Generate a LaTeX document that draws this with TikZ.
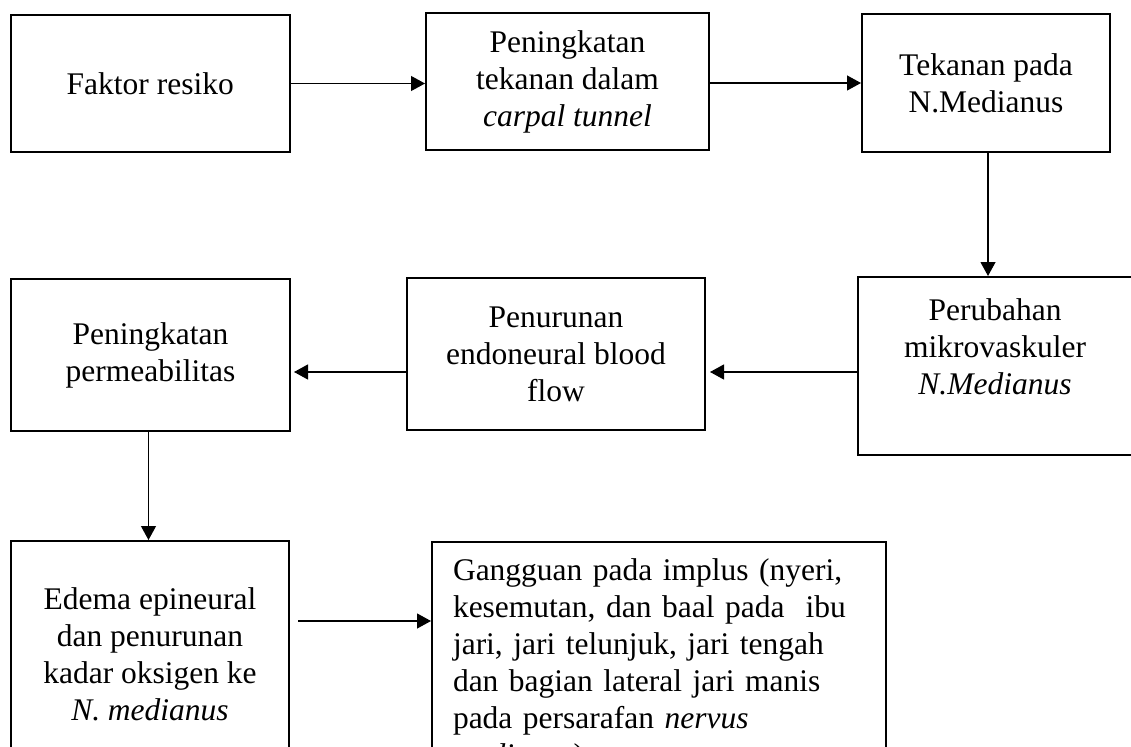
\documentclass[tikz,border=0pt]{standalone}
\usepackage{fontspec}
\setmainfont{Liberation Serif}
\usetikzlibrary{arrows.meta}
\begin{document}
\begin{tikzpicture}[x=1pt, y=-1pt,
    every node/.style={font=\fontsize{31.5}{37}\selectfont},
    box/.style={draw, line width=2pt, align=center, inner sep=0pt},
    arr/.style={line width=1.2pt, -{Triangle[length=14pt, width=15pt]}}]
    \useasboundingbox (0,0) rectangle (1131,746);

    % top row
    \node (f1) at (150.25,83.5) [box, minimum width=279.5pt, minimum height=137pt] {Faktor resiko};
    \node (f2) at (567.5,81.5) [box, minimum width=283pt, minimum height=137pt] {Peningkatan\\tekanan dalam\\\textit{carpal tunnel}};
    \node (f3) at (986,83) [box, minimum width=248pt, minimum height=138pt] {Tekanan pada\\N.Medianus};
    \draw[arr] (f1.east) -- (f1.east -| f2.west);
    \draw[arr] (f3.west -| f2.east) -- (f3.west);

    % middle row
    \node (f4) at (995,366) [box, minimum width=274pt, minimum height=178pt,
      label={[align=center, inner sep=0pt, anchor=north, label distance=-22.5pt]north:{Perubahan\\mikrovaskuler\\\textit{N.Medianus}}}] {};
    \draw[arr] ([xshift=2pt]f3.south) -- ([xshift=2pt]f3.south |- f4.north);

    \node (f5) at (556,354) [box, minimum width=298pt, minimum height=152pt] {Penurunan\\endoneural blood\\flow};
    \draw[arr, shorten >=4pt] ([yshift=-6pt]f4.west) -- ([yshift=-6pt]f4.west -| f5.east);

    \node (f6) at (150.5,355) [box, minimum width=279pt, minimum height=152pt] {Peningkatan\\permeabilitas};
    \draw[arr, shorten >=3pt] ([yshift=-18pt]f5.west) -- ([yshift=-18pt]f5.west -| f6.east);

    % bottom row
    \node (f7) at (150,654) [box, minimum width=278pt, minimum height=226pt] {Edema epineural\\dan penurunan\\kadar oksigen ke\\\textit{N. medianus}};
    \draw[arr] ([xshift=-2pt]f6.south) -- ([xshift=-2pt]f6.south |- f7.north);

    \node (f8) at (659,665) [box, minimum width=454pt, minimum height=246pt, align=left, text width=412pt]
      {Gangguan pada implus (nyeri,\\kesemutan, dan baal pada~ ibu\\jari, jari telunjuk, jari tengah\\dan bagian lateral jari manis\\pada persarafan \textit{nervus}\\\textit{medianus})};
    \draw[arr, shorten <=8pt] ([yshift=33pt]f7.east) -- ([yshift=33pt]f7.east -| f8.west);
\end{tikzpicture}
\end{document}
